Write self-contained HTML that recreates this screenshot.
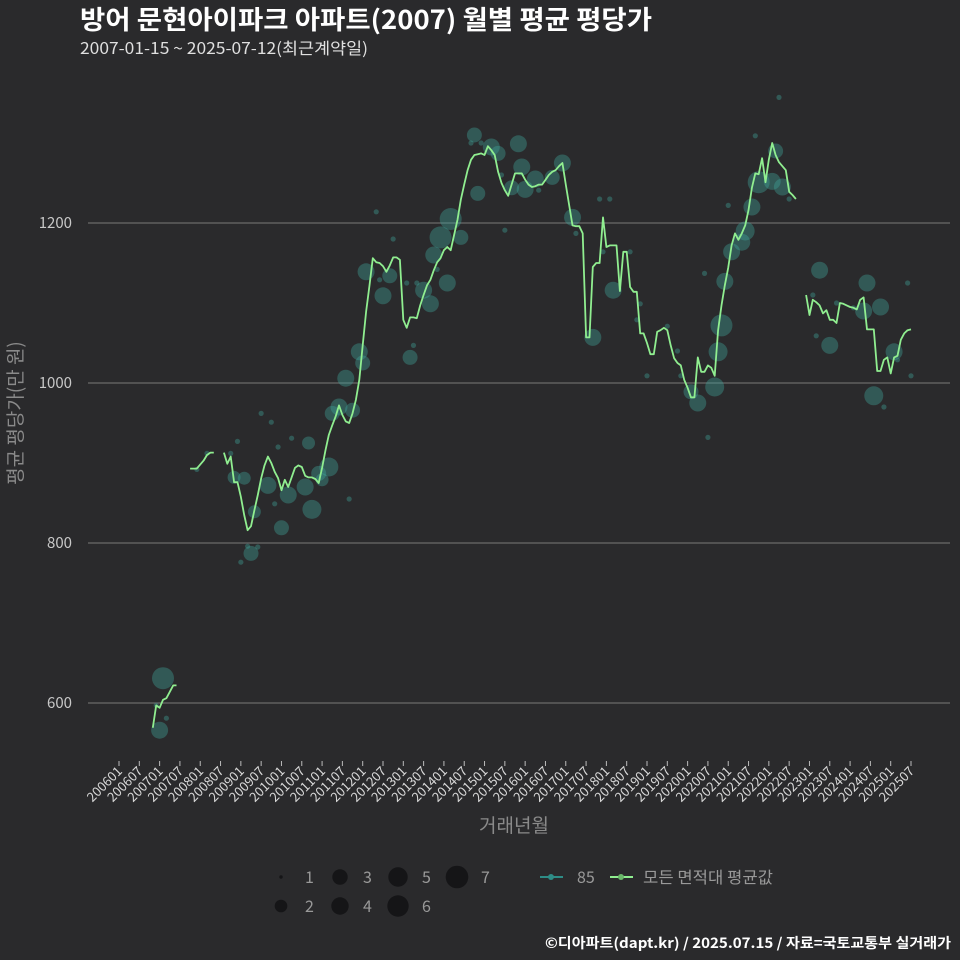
<!DOCTYPE html>
<html><head><meta charset="utf-8">
<style>
body{margin:0;background:#2a2a2c;}
svg{display:block;font-family:"Noto Sans CJK KR","Liberation Sans",sans-serif;}
</style></head>
<body>
<svg id="chart" width="960" height="960" viewBox="0 0 960 960">
<rect width="960" height="960" fill="#2a2a2c"/>
<text x="80" y="29" font-size="26" font-weight="bold" fill="#ffffff" textLength="572" lengthAdjust="spacingAndGlyphs">방어 문현아이파크 아파트(2007) 월별 평균 평당가</text>
<text x="80" y="54" font-size="16" fill="#e0e0e0" textLength="288" lengthAdjust="spacingAndGlyphs">2007-01-15 ~ 2025-07-12(최근계약일)</text>
<g id="grid"></g>
<g id="yticks"></g>
<g id="xticks"></g>
<g id="bubbles"></g>
<g id="lines"></g>
<text x="0" y="0" transform="translate(22,413) rotate(-90)" text-anchor="middle" font-size="19" fill="#8a8a8a">평균 평당가(만 원)</text>
<text x="514" y="832" text-anchor="middle" font-size="19" fill="#8a8a8a">거래년월</text>
<g>
<g>
<circle cx="281" cy="877" r="1.7" fill="#151517"/>
<text x="305" y="883" font-size="16" fill="#999">1</text>
<circle cx="281" cy="906" r="6.3" fill="#151517"/>
<text x="305" y="912" font-size="16" fill="#999">2</text>
<circle cx="340" cy="877" r="7.7" fill="#151517"/>
<text x="363" y="883" font-size="16" fill="#999">3</text>
<circle cx="340" cy="906" r="8.7" fill="#151517"/>
<text x="363" y="912" font-size="16" fill="#999">4</text>
<circle cx="398" cy="877" r="9.7" fill="#151517"/>
<text x="422" y="883" font-size="16" fill="#999">5</text>
<circle cx="398" cy="906" r="10.7" fill="#151517"/>
<text x="422" y="912" font-size="16" fill="#999">6</text>
<circle cx="457" cy="877" r="11.3" fill="#151517"/>
<text x="481" y="883" font-size="16" fill="#999">7</text>
</g>
<g>
<line x1="540" y1="877" x2="563" y2="877" stroke="#2e8c86" stroke-width="2"/>
<circle cx="551" cy="877" r="3" fill="#2e8c86"/>
<text x="577" y="883" font-size="16" fill="#999">85</text>
</g>
<g>
<line x1="610" y1="877" x2="633" y2="877" stroke="#90ee90" stroke-width="2"/>
<circle cx="621" cy="877" r="3" fill="#6ab86a"/>
<text x="643" y="883" font-size="16" fill="#999" textLength="130" lengthAdjust="spacingAndGlyphs">모든 면적대 평균값</text>
</g>
</g>
<text x="951" y="948" text-anchor="end" font-size="14" font-weight="bold" fill="#ffffff" textLength="406" lengthAdjust="spacingAndGlyphs">©디아파트(dapt.kr) / 2025.07.15 / 자료=국토교통부 실거래가</text>
</svg>
<script>
// Monthly average segments: start month index (0 = 2006-01) and values
const segStarts = [10, 21, 31, 203];
const segValues = [
 [569,597,594,604,606,614,622,622],
 [893,893,893,898,903,910,913,913],
 [913,899,908,876,876,858,835,816,821,841,860,881,897,908,900,889,881,866,879,870,882,894,897,895,884,882,882,880,875,894,916,935,947,958,972,960,952,950,962,979,1004,1047,1089,1122,1156,1151,1150,1146,1139,1147,1157,1157,1154,1079,1069,1082,1082,1081,1097,1110,1122,1129,1141,1151,1156,1166,1170,1166,1185,1204,1229,1248,1266,1279,1285,1286,1287,1285,1296,1291,1285,1264,1250,1241,1234,1248,1262,1262,1262,1254,1248,1245,1246,1248,1248,1254,1260,1264,1266,1271,1275,1248,1222,1197,1196,1196,1187,1057,1057,1145,1150,1150,1207,1170,1172,1172,1172,1115,1164,1164,1120,1114,1114,1062,1062,1050,1036,1036,1064,1066,1069,1066,1047,1031,1025,1022,1004,994,982,982,1032,1014,1014,1022,1019,1009,1066,1097,1122,1144,1172,1187,1179,1187,1197,1216,1244,1262,1261,1281,1251,1279,1300,1285,1276,1271,1266,1239,1235,1230],
 [1110,1085,1104,1101,1097,1087,1091,1079,1079,1075,1100,1099,1097,1095,1094,1092,1104,1107,1067,1067,1067,1015,1015,1029,1032,1012,1032,1034,1054,1062,1066,1067]
];
// 85 m² transactions: month index, value, count
const bubMonth = [13,12,14,11,23,26,33,34,35,37,36,38,39,41,40,42,45,44,46,47,48,50,51,55,56,57,59,60,62,68,63,65,69,67,71,72,73,76,77,78,80,81,85,86,87,88,90,92,93,94,95,97,98,101,104,105,107,106,110,112,113,114,116,118,119,120,123,124,128,131,134,135,140,142,145,143,146,151,153,154,156,162,165,166,169,171,173,174,176,177,178,179,180,181,184,185,187,188,189,193,194,195,196,198,205,206,207,210,212,217,220,221,223,225,226,229,230,233,234];
const bubValue = [631,566,581,597,892,912,912,882,927,881,776,796,787,795,839,962,951,872,849,920,819,860,931,870,925,842,887,879,895,855,962,970,966,1006,1039,1025,1139,1214,1129,1109,1134,1180,1125,1032,1047,1125,1116,1099,1160,1142,1182,1125,1205,1182,1300,1310,1300,1237,1295,1287,1260,1191,1244,1299,1270,1242,1255,1241,1257,1275,1207,1187,1057,1230,1230,1164,1116,1164,1079,1099,1009,1071,1040,1009,989,975,1137,932,995,1039,1072,1127,1222,1164,1176,1190,1220,1309,1251,1252,1290,1357,1245,1230,1110,1059,1141,1047,1100,1094,1090,1125,984,1095,970,1039,1029,1125,1009];
const bubCount = [7,5,1,1,1,1,1,3,1,3,1,1,4,1,3,1,1,5,1,1,4,5,1,5,3,6,4,3,6,1,4,5,4,5,5,4,5,1,1,5,4,1,1,4,1,1,5,5,5,1,7,5,7,4,1,4,1,4,5,4,1,1,4,5,5,5,5,1,4,5,5,1,5,1,1,1,5,1,1,1,1,1,1,1,4,5,1,1,6,6,7,5,1,5,5,6,5,1,7,5,4,1,5,1,1,1,5,5,1,1,5,5,6,5,1,5,1,1,1];
const yTicks = [600, 800, 1000, 1200];
const xTickLabels = [];
for (let y = 2006; y <= 2025; y++) { xTickLabels.push(y + '01'); xTickLabels.push(y + '07'); }

const NS = 'http://www.w3.org/2000/svg';
const xScale = m => 119 + m * (792 / 234);
const yScale = v => 383 - (v - 1000) * 0.8;
const rScale = c => [0, 2.6, 5, 6.5, 7.5, 8.5, 9.5, 11][c];

const grid = document.getElementById('grid');
const yt = document.getElementById('yticks');
yTicks.forEach(v => {
  const l = document.createElementNS(NS, 'line');
  l.setAttribute('x1', 88); l.setAttribute('x2', 950);
  l.setAttribute('y1', yScale(v)); l.setAttribute('y2', yScale(v));
  l.setAttribute('stroke', '#6a6a6a'); l.setAttribute('stroke-width', '1.2');
  
  
  grid.appendChild(l);
  const t = document.createElementNS(NS, 'text');
  t.setAttribute('x', 72); t.setAttribute('y', yScale(v) + 5);
  t.setAttribute('text-anchor', 'end'); t.setAttribute('font-size', '15'); t.setAttribute('fill', '#c8c8c8');
  t.textContent = v;
  
  
  yt.appendChild(t);
});
const xt = document.getElementById('xticks');
xTickLabels.forEach((lab, i) => {
  const x = xScale(i * 6);
  const l = document.createElementNS(NS, 'line');
  l.setAttribute('x1', x); l.setAttribute('x2', x); l.setAttribute('y1', 761); l.setAttribute('y2', 766);
  l.setAttribute('stroke', '#bbb');
  
  
  xt.appendChild(l);
  const t = document.createElementNS(NS, 'text');
  t.setAttribute('transform', 'translate(' + (x + 4) + ',772) rotate(-45)');
  t.setAttribute('text-anchor', 'end'); t.setAttribute('font-size', '13'); t.setAttribute('fill', '#d8d8d8');
  t.textContent = lab;
  
  
  xt.appendChild(t);
});
const bg = document.getElementById('bubbles');
bubMonth.forEach((m, i) => {
  const c = document.createElementNS(NS, 'circle');
  c.setAttribute('cx', xScale(m)); c.setAttribute('cy', yScale(bubValue[i]));
  c.setAttribute('r', rScale(bubCount[i]));
  c.setAttribute('fill', 'rgba(64,165,155,0.38)');
  
  
  bg.appendChild(c);
});
const lg = document.getElementById('lines');
segValues.forEach((vals, s) => {
  const pts = vals.map((v, k) => xScale(segStarts[s] + k).toFixed(1) + ',' + yScale(v).toFixed(1)).join(' ');
  const p = document.createElementNS(NS, 'polyline');
  p.setAttribute('points', pts);
  p.setAttribute('fill', 'none'); p.setAttribute('stroke', '#90ee90'); p.setAttribute('stroke-width', '1.8');
  p.setAttribute('stroke-linejoin', 'round');
  
  
  lg.appendChild(p);
});
</script>
</body></html>
